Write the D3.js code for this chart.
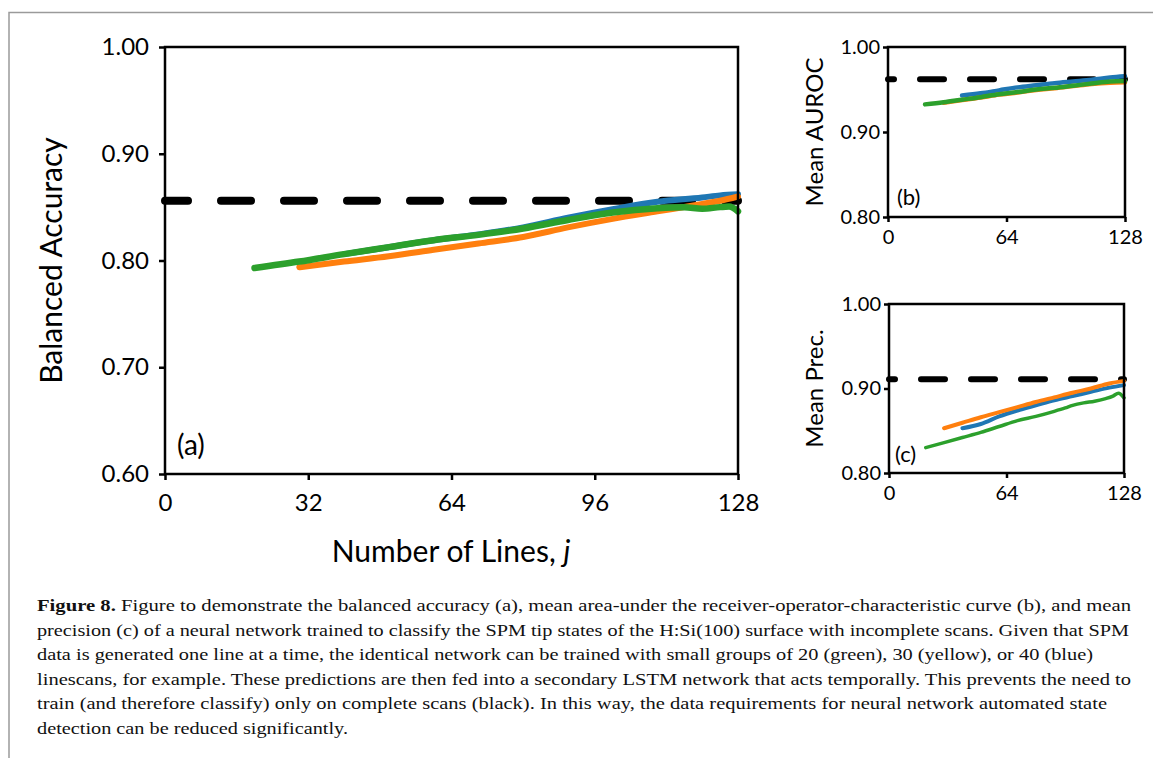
<!DOCTYPE html>
<html>
<head>
<meta charset="utf-8">
<script src="https://cdn.jsdelivr.net/npm/d3@7"></script>
<style>
  body { margin: 0; background: #fff; }
  svg { display: block; }
</style>
</head>
<body>
<div class="canva"></div>
<script>
// ---- data (j = number of lines) ----
const xTicksMain = [0, 32, 64, 96, 128]
const xTicksSmall = [0, 64, 128]
const yTicksMain = [0.60, 0.70, 0.80, 0.90, 1.00]
const yTicksSmall = [0.80, 0.90, 1.00]

// (a) balanced accuracy
const accGreenJ = [20, 30, 40, 50, 60, 70, 80, 90, 100, 110, 116, 120, 124, 126, 128]
const accGreen  = [0.793, 0.799, 0.806, 0.8125, 0.819, 0.824, 0.830, 0.838, 0.845, 0.849, 0.850, 0.8485, 0.850, 0.8505, 0.846]
const accOrangeJ = [30, 40, 50, 60, 70, 80, 90, 100, 110, 120, 124, 128]
const accOrange  = [0.7937, 0.799, 0.804, 0.810, 0.816, 0.822, 0.831, 0.839, 0.846, 0.853, 0.856, 0.860]
const accBlueJ = [40, 50, 60, 70, 80, 90, 100, 110, 120, 124, 128]
const accBlue  = [0.806, 0.8125, 0.819, 0.8245, 0.831, 0.840, 0.848, 0.855, 0.859, 0.861, 0.862]
const accBlack = 0.856

// (b) mean AUROC
const aurocGreenJ = [20, 30, 40, 50, 60, 70, 80, 90, 100, 110, 120, 128]
const aurocGreen  = [0.9325, 0.935, 0.938, 0.941, 0.9445, 0.947, 0.950, 0.952, 0.9545, 0.957, 0.9595, 0.960]
const aurocOrangeJ = [30, 40, 50, 60, 70, 80, 90, 100, 110, 120, 128]
const aurocOrange  = [0.9345, 0.9375, 0.9405, 0.944, 0.9465, 0.9495, 0.9515, 0.954, 0.9565, 0.958, 0.9585]
const aurocBlueJ = [40, 50, 60, 70, 80, 90, 100, 110, 120, 128]
const aurocBlue  = [0.943, 0.9455, 0.949, 0.9525, 0.955, 0.9575, 0.9595, 0.9615, 0.964, 0.9655]
const aurocBlack = 0.962

// (c) mean precision
const precGreenJ = [20, 30, 40, 50, 60, 70, 80, 90, 96, 100, 106, 112, 118, 122, 125, 128]
const precGreen  = [0.830, 0.836, 0.842, 0.848, 0.855, 0.862, 0.867, 0.873, 0.877, 0.880, 0.883, 0.885, 0.888, 0.891, 0.8945, 0.889]
const precOrangeJ = [30, 40, 50, 60, 70, 80, 90, 100, 110, 120, 128]
const precOrange  = [0.853, 0.8595, 0.866, 0.872, 0.878, 0.884, 0.8895, 0.895, 0.900, 0.906, 0.909]
const precBlueJ = [40, 50, 60, 70, 80, 90, 100, 110, 120, 128]
const precBlue  = [0.853, 0.858, 0.867, 0.874, 0.880, 0.886, 0.891, 0.896, 0.901, 0.904]
const precBlack = 0.911

const captionLines = [
  "Figure to demonstrate the balanced accuracy (a), mean area-under the receiver-operator-characteristic curve (b), and mean",
  "precision (c) of a neural network trained to classify the SPM tip states of the H:Si(100) surface with incomplete scans. Given that SPM",
  "data is generated one line at a time, the identical network can be trained with small groups of 20 (green), 30 (yellow), or 40 (blue)",
  "linescans, for example. These predictions are then fed into a secondary LSTM network that acts temporally. This prevents the need to",
  "train (and therefore classify) only on complete scans (black). In this way, the data requirements for neural network automated state",
  "detection can be reduced significantly."
]
const captionEnds = [1131, 1129, 1093, 1131, 1107, 348]

const BLUE = "#1f77b4", ORANGE = "#ff7f0e", GREEN = "#2ca02c"
const FONT = "Lato, 'Open Sans', sans-serif"
const SERIF = "'Liberation Serif', 'DejaVu Serif', serif"

const svg = d3.select(".canva").append("svg")
  .attr("width", 1153).attr("height", 758)

// page border (top + left)
svg.append("path")
  .attr("d", "M9,758 V12.5 H1153")
  .attr("fill", "none").attr("stroke", "#9a9a9a").attr("stroke-width", 1.5)

function panel(o) {
  const x = d3.scaleLinear().domain([0, 128]).range([o.left, o.right])
  const y = d3.scaleLinear().domain([o.ymin, 1.0]).range([o.bottom, o.top])
  const g = svg.append("g")

  const yAxis = g.append("g").attr("transform", `translate(${o.left},0)`)
    .call(d3.axisLeft(y).tickValues(o.yTicks).tickSize(o.tick).tickSizeOuter(0)
      .tickPadding(o.ypad).tickFormat(d3.format(".2f")))
  const xAxis = g.append("g").attr("transform", `translate(0,${o.bottom})`)
    .call(d3.axisBottom(x).tickValues(o.xTicks).tickSize(o.tick).tickSizeOuter(0)
      .tickPadding(o.xpad).tickFormat(d3.format("d")))
  ;[xAxis, yAxis].forEach(a => {
    a.select(".domain").remove()
    a.selectAll("line").attr("stroke", "#000").attr("stroke-width", o.frameW)
    a.selectAll("text").attr("fill", "#000").style("font-family", FONT).style("font-size", o.tickFont + "px")
  })

  // black dashed reference (complete scans)
  g.append("line")
    .attr("x1", x(0)).attr("x2", x(128))
    .attr("y1", y(o.black)).attr("y2", y(o.black))
    .attr("stroke", "#000").attr("stroke-width", o.dashW)
    .attr("stroke-linecap", "round")
    .attr("stroke-dasharray", o.dash).attr("stroke-dashoffset", o.dashOff)

  const line = d3.line().x(d => x(d[0])).y(d => y(d[1])).curve(d3.curveMonotoneX)
  o.series.forEach(s => {
    g.append("path")
      .datum(s.j.map((j, i) => [j, s.v[i]]))
      .attr("d", line)
      .attr("fill", "none").attr("stroke", s.color)
      .attr("stroke-width", s.w).attr("stroke-linecap", "round").attr("stroke-linejoin", "round")
  })

  // frame
  g.append("rect")
    .attr("x", o.left).attr("y", o.top)
    .attr("width", o.right - o.left).attr("height", o.bottom - o.top)
    .attr("fill", "none").attr("stroke", "#000").attr("stroke-width", o.frameW)

  g.append("text").text(o.tag)
    .attr("x", o.tagX).attr("y", o.tagY)
    .style("font-family", FONT).style("font-size", o.tagFont + "px")

  g.append("text").text(o.ylabel)
    .attr("transform", `translate(${o.ylabX},${(o.top + o.bottom) / 2}) rotate(-90)`)
    .attr("text-anchor", "middle")
    .style("font-family", FONT).style("font-size", o.labFont + "px")
  return g
}

panel({
  left: 165, right: 738, top: 47, bottom: 474, ymin: 0.6,
  xTicks: xTicksMain, yTicks: yTicksMain, tick: 6, ypad: 10, xpad: 14,
  tickFont: 24, frameW: 2.5,
  black: accBlack, dashW: 8, dash: "30,33", dashOff: 7,
  series: [
    { j: accBlueJ, v: accBlue, color: BLUE, w: 6 },
    { j: accOrangeJ, v: accOrange, color: ORANGE, w: 6 },
    { j: accGreenJ, v: accGreen, color: GREEN, w: 6.5 }
  ],
  tag: "(a)", tagX: 177, tagY: 455, tagFont: 28,
  ylabel: "Balanced Accuracy", ylabX: 62, labFont: 30
})

panel({
  left: 888, right: 1125, top: 47, bottom: 217, ymin: 0.8,
  xTicks: xTicksSmall, yTicks: yTicksSmall, tick: 5, ypad: 3, xpad: 8,
  tickFont: 20, frameW: 2.5,
  black: aurocBlack, dashW: 6, dash: "24,26", dashOff: 18,
  series: [
    { j: aurocBlueJ, v: aurocBlue, color: BLUE, w: 4.5 },
    { j: aurocOrangeJ, v: aurocOrange, color: ORANGE, w: 4.5 },
    { j: aurocGreenJ, v: aurocGreen, color: GREEN, w: 4.5 }
  ],
  tag: "(b)", tagX: 897, tagY: 205, tagFont: 22,
  ylabel: "Mean AUROC", ylabX: 823, labFont: 24
})

panel({
  left: 889, right: 1124, top: 304, bottom: 473, ymin: 0.8,
  xTicks: xTicksSmall, yTicks: yTicksSmall, tick: 5, ypad: 3, xpad: 8,
  tickFont: 20, frameW: 2.5,
  black: precBlack, dashW: 6, dash: "24,26", dashOff: 18,
  series: [
    { j: precBlueJ, v: precBlue, color: BLUE, w: 4 },
    { j: precOrangeJ, v: precOrange, color: ORANGE, w: 4 },
    { j: precGreenJ, v: precGreen, color: GREEN, w: 3.5 }
  ],
  tag: "(c)", tagX: 895, tagY: 462, tagFont: 22,
  ylabel: "Mean Prec.", ylabX: 823, labFont: 24
})

// x axis title of the main panel
const xt = svg.append("text")
  .attr("x", 451).attr("y", 562)
  .attr("text-anchor", "middle")
  .style("font-family", FONT).style("font-size", "30px")
xt.append("tspan").text("Number of Lines, ")
xt.append("tspan").text("j").style("font-style", "italic")

// caption
const cap = svg.append("g")
captionLines.forEach((t, i) => {
  const txt = cap.append("text")
    .attr("x", 37).attr("y", 611 + i * 24.6)
    .attr("textLength", captionEnds[i] - 37).attr("lengthAdjust", "spacingAndGlyphs")
    .style("font-family", SERIF).style("font-size", "16px").attr("fill", "#111")
  if (i === 0) {
    txt.append("tspan").text("Figure 8.").style("font-weight", "bold")
    txt.append("tspan").text(" " + t)
  } else {
    txt.text(t)
  }
})
</script>
</body>
</html>
